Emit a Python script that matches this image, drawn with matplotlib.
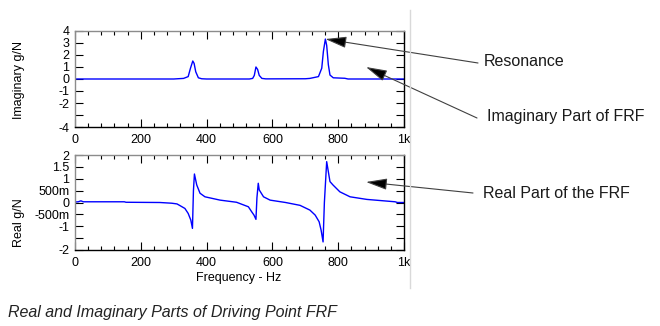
import numpy as np
import matplotlib
matplotlib.use('Agg')
import matplotlib.pyplot as plt
from matplotlib.ticker import MultipleLocator

plt.rcParams['font.family'] = ['Liberation Sans', 'DejaVu Sans']

# imaginary part of the driving point FRF (g/N)
freq_imag = [0, 300, 330, 344, 351, 358, 362, 367, 375, 385, 400,
             530, 540, 545, 550, 555, 560, 568, 580,
             700, 714, 740, 750, 755, 761, 765, 770, 775, 785, 820, 830, 1000]
imag_part = [0, 0, 0.05, 0.2, 0.9, 1.5, 1.3, 0.6, 0.1, 0.02, 0,
             0, 0.05, 0.3, 1.0, 0.8, 0.3, 0.05, 0.01,
             0.02, 0.05, 0.2, 0.9, 2.3, 3.33, 2.8, 1.2, 0.33, 0.1, 0.06, 0.0, 0.0]

# real part of the driving point FRF (g/N)
freq_real = [0, 10, 18, 25, 150, 155, 258, 294, 310, 319, 334, 344, 352, 357, 360,
             363, 370, 380, 395, 441, 491, 527, 537, 544, 550, 553, 557, 560, 573,
             593, 640, 684, 714, 730, 742, 748, 754, 758, 765, 775, 784, 805, 836,
             887, 973, 980, 1000]
real_part = [0.02, 0.03, 0.07, 0.03, 0.03, 0.01, 0.0, -0.03, -0.06, -0.13, -0.25, -0.46,
             -0.74, -1.09, 0.5, 1.2, 0.74, 0.39, 0.24, 0.10, 0.01, -0.18, -0.39, -0.53,
             -0.71, 0.2, 0.81, 0.53, 0.24, 0.10, 0.0, -0.12, -0.32, -0.53, -0.81, -1.16,
             -1.66, 0.0, 1.72, 0.88, 0.74, 0.45, 0.24, 0.13, 0.03, 0.0, 0.0]

x_ticks = [0, 200, 400, 600, 800, 1000]
x_ticklabels = ['0', '200', '400', '600', '800', '1k']
imag_ticks = [-4, -3, -2, -1, 0, 1, 2, 3, 4]
imag_ticklabels = ['-4', '', '-2', '-1', '0', '1', '2', '3', '4']
real_ticks = [-2, -1.5, -1, -0.5, 0, 0.5, 1, 1.5, 2]
real_ticklabels = ['-2', '', '-1', '-500m', '0', '500m', '1', '1.5', '2']

W, H = 660, 326
fig = plt.figure(figsize=(W / 100, H / 100), dpi=100)


def px_box(left, top, right, bottom):
    return [left / W, 1 - bottom / H, (right - left) / W, (bottom - top) / H]


def style_axes(ax, yticks, yticklabels, ylim):
    ax.set_xlim(0, 1000)
    ax.set_ylim(*ylim)
    ax.set_xticks(x_ticks)
    ax.set_xticklabels(x_ticklabels)
    ax.xaxis.set_minor_locator(MultipleLocator(40))
    ax.set_yticks(yticks)
    ax.set_yticklabels(yticklabels)
    ax.tick_params(axis='both', which='major', direction='in', top=True, right=True,
                   length=6, width=0.8, labelsize=9, pad=4, color='black')
    ax.tick_params(axis='x', which='minor', direction='in', top=True, bottom=True,
                   length=3, width=0.8, color='black')
    ax.tick_params(axis='x', which='major', pad=5)
    for side in ['left', 'top']:
        ax.spines[side].set_color('#8c8c8c')
    for side in ['right', 'bottom']:
        ax.spines[side].set_color('black')
    for sp in ax.spines.values():
        sp.set_linewidth(1.0)


ax1 = fig.add_axes(px_box(75, 31, 404, 127))
ax1.plot(freq_imag, imag_part, color='#0000ff', lw=1.0)
style_axes(ax1, imag_ticks, imag_ticklabels, (-4, 4))

ax2 = fig.add_axes(px_box(75, 155, 404, 250))
ax2.plot(freq_real, real_part, color='#0000ff', lw=1.0)
style_axes(ax2, real_ticks, real_ticklabels, (-2, 2))

fig.text(19 / W, 1 - 80 / H, 'Imaginary g/N', rotation=90, fontsize=9,
         ha='center', va='center')
fig.text(19 / W, 1 - 223 / H, 'Real g/N', rotation=90, fontsize=9,
         ha='center', va='center')
fig.text(239 / W, 1 - 278 / H, 'Frequency - Hz', fontsize=9,
         ha='center', va='center')

# separator line on the right of the plots
fig.add_artist(plt.Line2D([410 / W, 410 / W], [1 - 10 / H, 1 - 288 / H],
                          color='#d9d9d9', lw=1.0))

arrow_kw = dict(arrowstyle='-|>,head_length=1.3,head_width=0.35', mutation_scale=10,
                lw=0.8, ec='#404040', fc='black', shrinkA=0, shrinkB=0)

ax1.annotate('', xy=(761, 3.33), xycoords='data',
             xytext=(478, H - 63), textcoords='figure pixels',
             arrowprops=arrow_kw, annotation_clip=False)
ax1.annotate('', xy=(366, H - 67), xycoords='figure pixels',
             xytext=(477, H - 118), textcoords='figure pixels',
             arrowprops=arrow_kw, annotation_clip=False)
ax2.annotate('', xy=(366, H - 182), xycoords='figure pixels',
             xytext=(473, H - 193), textcoords='figure pixels',
             arrowprops=arrow_kw, annotation_clip=False)

fig.text(484 / W, 1 - 62 / H, 'Resonance', fontsize=11.5, va='center', color='#1a1a1a')
fig.text(487 / W, 1 - 117 / H, 'Imaginary Part of FRF', fontsize=11.5, va='center',
         color='#1a1a1a')
fig.text(483 / W, 1 - 193 / H, 'Real Part of the FRF', fontsize=11.5, va='center',
         color='#1a1a1a')

fig.text(8 / W, 1 - 312 / H, 'Real and Imaginary Parts of Driving Point FRF',
         fontsize=11.5, style='italic', va='center', color='#222222')

fig.savefig('out.png', dpi=100)
